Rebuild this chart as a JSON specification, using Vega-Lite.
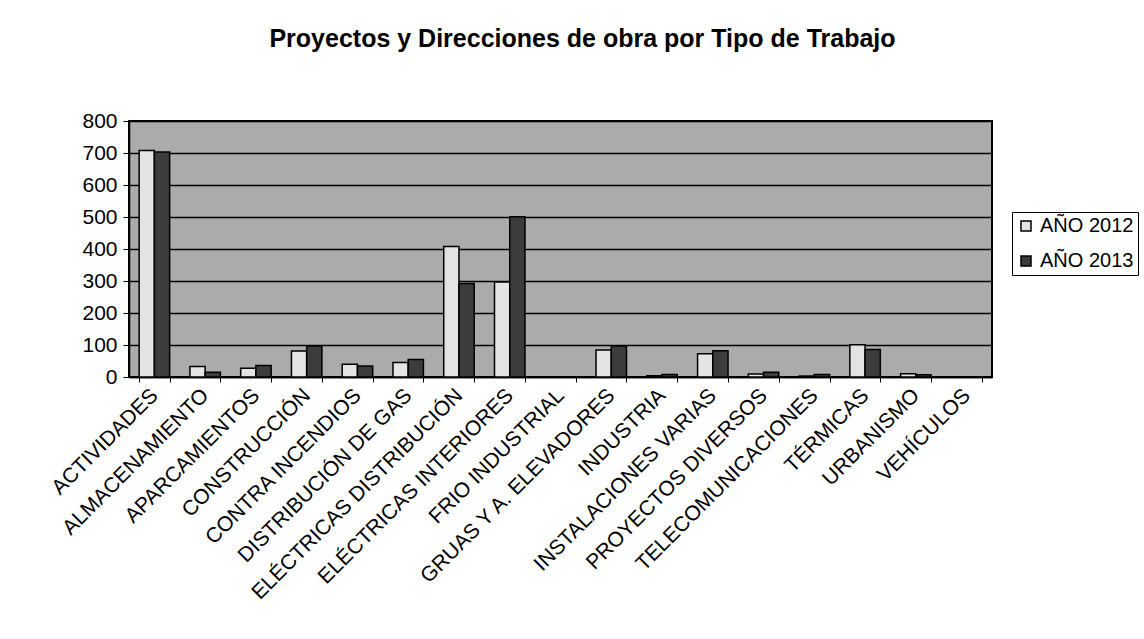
{
  "$schema": "https://vega.github.io/schema/vega-lite/v6.json",
  "width": 863,
  "height": 256,
  "autosize": {"type": "none"},
  "padding": {"left": 129, "top": 121, "right": 152, "bottom": 262},
  "background": "white",
  "title": {
    "text": "Proyectos y Direcciones de obra por Tipo de Trabajo",
    "font": "Liberation Sans",
    "fontSize": 25,
    "fontWeight": "bold",
    "color": "black",
    "anchor": "middle",
    "dx": 22,
    "offset": 58
  },
  "data": {
    "values": [
      {"tipo": "ACTIVIDADES", "anio": "AÑO 2012", "valor": 708},
      {"tipo": "ACTIVIDADES", "anio": "AÑO 2013", "valor": 703},
      {"tipo": "ALMACENAMIENTO", "anio": "AÑO 2012", "valor": 33},
      {"tipo": "ALMACENAMIENTO", "anio": "AÑO 2013", "valor": 15},
      {"tipo": "APARCAMIENTOS", "anio": "AÑO 2012", "valor": 27},
      {"tipo": "APARCAMIENTOS", "anio": "AÑO 2013", "valor": 36},
      {"tipo": "CONSTRUCCIÓN", "anio": "AÑO 2012", "valor": 81},
      {"tipo": "CONSTRUCCIÓN", "anio": "AÑO 2013", "valor": 97},
      {"tipo": "CONTRA INCENDIOS", "anio": "AÑO 2012", "valor": 40},
      {"tipo": "CONTRA INCENDIOS", "anio": "AÑO 2013", "valor": 34},
      {"tipo": "DISTRIBUCIÓN DE GAS", "anio": "AÑO 2012", "valor": 45},
      {"tipo": "DISTRIBUCIÓN DE GAS", "anio": "AÑO 2013", "valor": 55},
      {"tipo": "ELÉCTRICAS DISTRIBUCIÓN", "anio": "AÑO 2012", "valor": 408},
      {"tipo": "ELÉCTRICAS DISTRIBUCIÓN", "anio": "AÑO 2013", "valor": 292},
      {"tipo": "ELÉCTRICAS INTERIORES", "anio": "AÑO 2012", "valor": 297},
      {"tipo": "ELÉCTRICAS INTERIORES", "anio": "AÑO 2013", "valor": 501},
      {"tipo": "FRIO INDUSTRIAL", "anio": "AÑO 2012", "valor": 0},
      {"tipo": "FRIO INDUSTRIAL", "anio": "AÑO 2013", "valor": 0},
      {"tipo": "GRUAS Y A. ELEVADORES", "anio": "AÑO 2012", "valor": 84},
      {"tipo": "GRUAS Y A. ELEVADORES", "anio": "AÑO 2013", "valor": 97},
      {"tipo": "INDUSTRIA", "anio": "AÑO 2012", "valor": 4},
      {"tipo": "INDUSTRIA", "anio": "AÑO 2013", "valor": 8},
      {"tipo": "INSTALACIONES VARIAS", "anio": "AÑO 2012", "valor": 73},
      {"tipo": "INSTALACIONES VARIAS", "anio": "AÑO 2013", "valor": 82},
      {"tipo": "PROYECTOS DIVERSOS", "anio": "AÑO 2012", "valor": 9},
      {"tipo": "PROYECTOS DIVERSOS", "anio": "AÑO 2013", "valor": 15},
      {"tipo": "TELECOMUNICACIONES", "anio": "AÑO 2012", "valor": 3},
      {"tipo": "TELECOMUNICACIONES", "anio": "AÑO 2013", "valor": 8},
      {"tipo": "TÉRMICAS", "anio": "AÑO 2012", "valor": 101},
      {"tipo": "TÉRMICAS", "anio": "AÑO 2013", "valor": 86},
      {"tipo": "URBANISMO", "anio": "AÑO 2012", "valor": 10},
      {"tipo": "URBANISMO", "anio": "AÑO 2013", "valor": 7},
      {"tipo": "VEHÍCULOS", "anio": "AÑO 2012", "valor": 0},
      {"tipo": "VEHÍCULOS", "anio": "AÑO 2013", "valor": 0}
    ]
  },
  "mark": {"type": "bar", "stroke": "black", "strokeWidth": 1.5},
  "encoding": {
    "x": {
      "field": "tipo",
      "type": "nominal",
      "sort": null,
      "scale": {"paddingInner": 0.4, "paddingOuter": 0.2},
      "axis": {
        "title": null,
        "labelAngle": -45,
        "labelAlign": "right",
        "labelBaseline": "middle",
        "labelFont": "Liberation Sans",
        "labelFontSize": 21,
        "labelColor": "black",
        "labelPadding": 10,
        "labelLimit": 0,
        "tickBand": "extent",
        "tickColor": "black",
        "tickSize": 5,
        "domainColor": "black",
        "domainWidth": 1.5
      }
    },
    "xOffset": {"field": "anio", "type": "nominal", "scale": {"paddingInner": 0, "paddingOuter": 0}},
    "y": {
      "field": "valor",
      "type": "quantitative",
      "scale": {"domain": [0, 800], "nice": false},
      "axis": {
        "title": null,
        "values": [0, 100, 200, 300, 400, 500, 600, 700, 800],
        "labelFont": "Liberation Sans",
        "labelFontSize": 21,
        "labelColor": "black",
        "labelPadding": 6,
        "tickColor": "black",
        "tickSize": 6,
        "domainColor": "black",
        "domainWidth": 1.5,
        "grid": true,
        "gridColor": "black",
        "gridWidth": 1.5,
        "gridOpacity": 1
      }
    },
    "fill": {
      "field": "anio",
      "type": "nominal",
      "scale": {"domain": ["AÑO 2012", "AÑO 2013"], "range": ["#e4e4e4", "#3c3c3c"]},
      "legend": {
        "title": null,
        "orient": "none",
        "legendX": 883,
        "legendY": 91,
        "symbolType": "square",
        "symbolSize": 100,
        "symbolStrokeColor": "black",
        "symbolStrokeWidth": 1.5,
        "labelFont": "Liberation Sans",
        "labelFontSize": 20,
        "labelColor": "black",
        "labelOffset": 4,
        "rowPadding": 15,
        "padding": 4,
        "strokeColor": "black",
        "fillColor": "white"
      }
    }
  },
  "config": {
    "view": {"stroke": "black", "strokeWidth": 2, "fill": "#ababab"}
  }
}
